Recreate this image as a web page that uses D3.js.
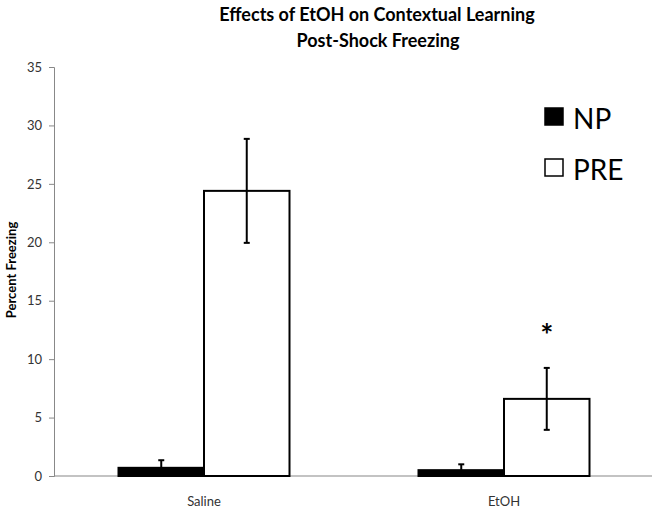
<!DOCTYPE html>
<html>
<head>
<meta charset="utf-8">
<script src="https://cdn.jsdelivr.net/npm/d3@7"></script>
<style>
  body { margin: 0; background: #fff; }
  text { font-family: Lato, "Open Sans", sans-serif; }
</style>
</head>
<body>
<div id="chart"></div>
<script>
const categories = ["Saline", "EtOH"]
const seriesNames = ["NP", "PRE"]
const npValues = [0.7, 0.5]
const npErrors = [0.65, 0.5]
const preValues = [24.4, 6.6]
const preErrors = [4.45, 2.65]
const yTicks = [0, 5, 10, 15, 20, 25, 30, 35]

const W = 658, H = 515
const svg = d3.select("#chart").append("svg").attr("width", W).attr("height", H)

const x = d3.scaleBand().domain(categories).range([54, 654]).paddingInner(0.43).paddingOuter(0.215)
const sub = d3.scaleBand().domain(seriesNames).range([0, x.bandwidth()])
const y = d3.scaleLinear().domain([0, 35]).range([476, 67])

// y axis
const yAxis = svg.append("g").attr("transform", "translate(54,0)")
  .call(d3.axisLeft(y).tickValues(yTicks).tickSize(5).tickPadding(7))
yAxis.select(".domain").attr("stroke", "#888")
yAxis.selectAll(".tick line").attr("stroke", "#888")
yAxis.selectAll(".tick text").attr("font-size", 13).attr("fill", "#333")

// x axis line
svg.append("line").attr("x1", 54).attr("x2", 652).attr("y1", y(0)).attr("y2", y(0))
  .attr("stroke", "#888").attr("stroke-width", 1.2)

svg.selectAll(".xlab").data(categories).enter().append("text")
  .attr("x", d => x(d) + x.bandwidth() / 2).attr("y", 506)
  .attr("text-anchor", "middle").attr("font-size", 13).attr("fill", "#333")
  .text(d => d)

const rows = []
categories.forEach((c, i) => {
  rows.push({ cat: c, s: "NP", v: npValues[i], e: npErrors[i], fill: "#000" })
  rows.push({ cat: c, s: "PRE", v: preValues[i], e: preErrors[i], fill: "#fff" })
})

svg.selectAll(".bar").data(rows).enter().append("rect")
  .attr("x", d => x(d.cat) + sub(d.s))
  .attr("y", d => y(d.v))
  .attr("width", sub.bandwidth())
  .attr("height", d => y(0) - y(d.v))
  .attr("fill", d => d.fill).attr("stroke", "#000").attr("stroke-width", 2)

const eb = svg.selectAll(".err").data(rows).enter().append("g")
  .attr("transform", d => `translate(${x(d.cat) + sub(d.s) + sub.bandwidth() / 2},0)`)
eb.append("line").attr("y1", d => y(d.v + d.e)).attr("y2", d => y(Math.max(0, d.v - d.e)))
  .attr("stroke", "#000").attr("stroke-width", 2)
eb.append("line").attr("x1", -3).attr("x2", 3).attr("y1", d => y(d.v + d.e)).attr("y2", d => y(d.v + d.e))
  .attr("stroke", "#000").attr("stroke-width", 2)
eb.filter(d => d.v - d.e > 0.3).append("line").attr("x1", -3).attr("x2", 3)
  .attr("y1", d => y(d.v - d.e)).attr("y2", d => y(d.v - d.e))
  .attr("stroke", "#000").attr("stroke-width", 2)

// significance marker
svg.append("text")
  .attr("x", x("EtOH") + sub("PRE") + sub.bandwidth() / 2).attr("y", 346)
  .attr("text-anchor", "middle").attr("font-size", 31).attr("font-weight", "bold").text("*")

// title
svg.append("text").attr("x", 377).attr("y", 21).attr("text-anchor", "middle")
  .attr("font-size", 18).attr("font-weight", "bold")
  .text("Effects of EtOH on Contextual Learning")
svg.append("text").attr("x", 378).attr("y", 47).attr("text-anchor", "middle")
  .attr("font-size", 18).attr("font-weight", "bold")
  .text("Post-Shock Freezing")

svg.append("text").attr("transform", "translate(16,270) rotate(-90)")
  .attr("text-anchor", "middle").attr("font-size", 13).attr("font-weight", "bold")
  .text("Percent Freezing")

// legend
const leg = svg.selectAll(".leg").data(seriesNames).enter().append("g")
  .attr("transform", (d, i) => `translate(545,${108 + i * 51})`)
leg.append("rect").attr("width", 18).attr("height", 17)
  .attr("fill", (d, i) => i === 0 ? "#000" : "#fff").attr("stroke", "#000").attr("stroke-width", 1.5)
leg.append("text").attr("x", 28).attr("y", 21).attr("font-size", 28).text(d => d)
</script>
</body>
</html>
